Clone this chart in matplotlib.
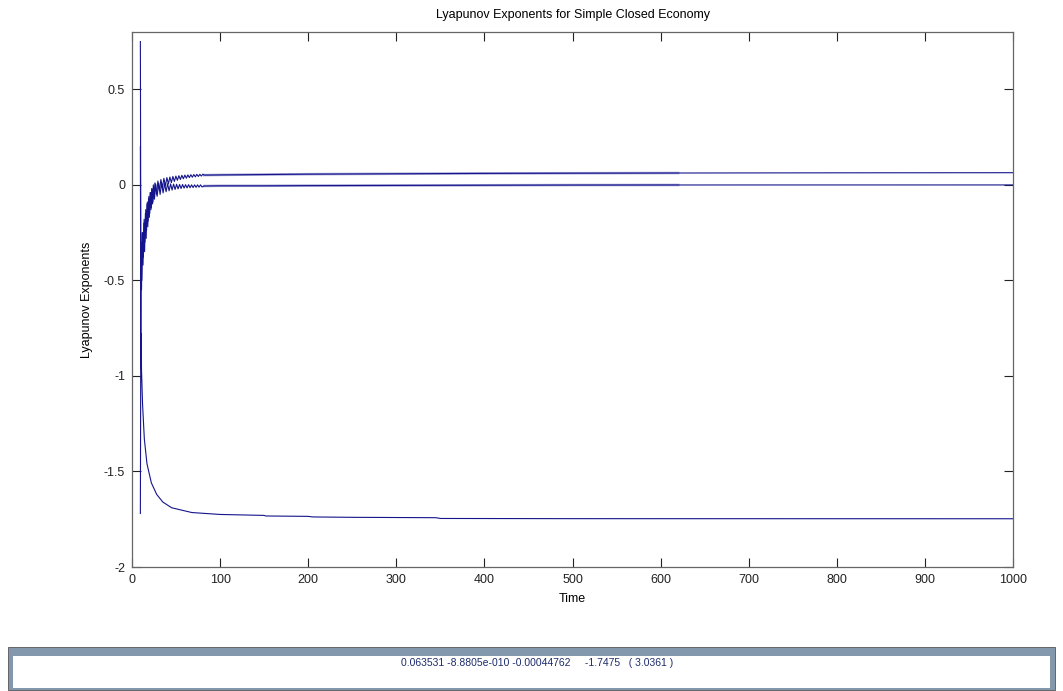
import matplotlib
matplotlib.use("Agg")
import matplotlib.pyplot as plt
from matplotlib.patches import Rectangle

plt.rcParams['font.family'] = ['Liberation Sans', 'DejaVu Sans']

# --- values ---
# largest exponent: wild start, zigzag, then slow approach to 0.0636
t1_early = [9.5, 10.0, 10.8, 11.6, 12.5, 13.4, 14.3, 15.2, 16.1, 17.0, 17.9, 18.8,
            19.7, 20.6, 21.5, 22.4, 23.3, 24.2, 25.1, 26.0, 27.7, 29.4, 31.1, 32.8,
            34.5, 36.2, 37.9, 39.6, 41.3, 43.0, 44.7, 46.4, 48.1, 49.8, 51.5, 53.2,
            54.9, 56.6, 58.3, 60.0, 61.7, 63.4, 65.1, 66.8, 68.5, 70.2, 71.9, 73.6,
            75.3, 77.0, 78.7, 80.4]
l1_early = [0.75, -0.30, -0.55, -0.25, -0.42, -0.20, -0.35, -0.15, -0.28, -0.10, -0.22, -0.07,
            -0.17, -0.04, -0.13, -0.02, -0.10, 0.00, -0.07, 0.01, -0.05, 0.02, -0.03, 0.028,
            -0.015, 0.034, -0.005, 0.038, 0.005, 0.041, 0.012, 0.044, 0.018, 0.046, 0.024, 0.048,
            0.028, 0.050, 0.032, 0.051, 0.035, 0.052, 0.038, 0.053, 0.040, 0.054, 0.042, 0.055,
            0.044, 0.055, 0.046, 0.056]
t1_late = [82, 100, 150, 200, 300, 400, 500, 620, 800, 1000]
l1_late = [0.051, 0.052, 0.054, 0.056, 0.058, 0.060, 0.061, 0.062, 0.063, 0.0636]

# middle exponent, converges to ~0
t2_early = [9.5, 10.0, 10.4, 11.2, 12.0, 12.9, 13.8, 14.7, 15.6, 16.5, 17.4, 18.3,
            19.2, 20.1, 21.0, 21.9, 22.8, 23.7, 24.6, 25.5, 26.8, 28.5, 30.2, 31.9,
            33.6, 35.3, 37.0, 38.7, 40.4, 42.1, 43.8, 45.5, 47.2, 48.9, 50.6, 52.3,
            54.0, 55.7, 57.4, 59.1, 60.8, 62.5, 64.2, 65.9, 67.6, 69.3, 71.0, 72.7,
            74.4, 76.1, 77.8, 79.5]
l2_early = [0.20, -0.75, -0.30, -0.50, -0.25, -0.38, -0.18, -0.30, -0.13, -0.24, -0.09, -0.19,
            -0.06, -0.15, -0.04, -0.12, -0.02, -0.09, -0.01, -0.075, 0.005, -0.06, 0.008, -0.05,
            0.008, -0.042, 0.007, -0.036, 0.006, -0.031, 0.005, -0.027, 0.004, -0.024, 0.003, -0.021,
            0.002, -0.019, 0.002, -0.017, 0.001, -0.016, 0.001, -0.015, 0.000, -0.014, 0.000, -0.013,
            0.000, -0.012, 0.000, -0.011]
t2_late = [82, 100, 150, 200, 300, 400, 500, 620, 800, 1000]
l2_late = [-0.006, -0.005, -0.005, -0.004, -0.003, -0.002, -0.001, -0.0006, -0.0005, -0.00045]

# smallest exponent, decays to -1.7475
t3 = [9.5, 10.0, 10.2, 10.5, 10.8, 11.0, 12.0, 14.0, 17.0, 22.0, 28.0, 35.0, 45.0,
      68.0, 100.0, 150.0, 152.0, 200.0, 205.0, 250.0, 345.0, 350.0, 500.0, 1000.0]
l3 = [-1.72, -0.75, -0.96, -0.78, -0.97, -1.00, -1.15, -1.33, -1.46, -1.56, -1.62, -1.66, -1.69,
      -1.715, -1.725, -1.730, -1.733, -1.735, -1.738, -1.740, -1.742, -1.746, -1.747, -1.7475]

x_ticks = [0, 100, 200, 300, 400, 500, 600, 700, 800, 900, 1000]
y_ticks = [-2, -1.5, -1, -0.5, 0, 0.5]
y_tick_labels = ['-2', '-1.5', '-1', '-0.5', '0', '0.5']
summary = '0.063531 -8.8805e-010 -0.00044762     -1.7475   ( 3.0361 )'

col = '#14148c'

fig = plt.figure(figsize=(10.63, 6.91), dpi=100)
ax = fig.add_axes([132/1063, 1 - 567/691, (1013-132)/1063, (567-32)/691])

# the fine zigzag that lasts till about t=620 shows as a soft band
ax.plot(t1_late[:-2], l1_late[:-2], color='#3030a0', lw=1.8, alpha=0.45)
ax.plot(t2_late[:-2], l2_late[:-2], color='#3030a0', lw=1.8, alpha=0.45)

ax.plot(t1_early + t1_late, l1_early + l1_late, color=col, lw=0.8)
ax.plot(t2_early + t2_late, l2_early + l2_late, color=col, lw=0.8)
ax.plot(t3, l3, color=col, lw=0.8)

ax.set_xlim(0, 1000)
ax.set_ylim(-2, 0.8)
ax.set_xticks(x_ticks)
ax.set_yticks(y_ticks)
ax.set_yticklabels(y_tick_labels)
ax.tick_params(direction='in', length=6.5, width=0.8, top=True, right=True,
               labelsize=9, pad=5, colors='#222222')
for s in ax.spines.values():
    s.set_color('#666666')
    s.set_linewidth(0.9)

ax.set_title('Lyapunov Exponents for Simple Closed Economy', fontsize=9, pad=10)
ax.set_xlabel('Time', fontsize=9, labelpad=5)
ax.set_ylabel('Lyapunov Exponents', fontsize=9, labelpad=8)

# status box under the chart
fig.patches.append(Rectangle((8/1063, 1 - 690/691), 1047/1063, 43/691,
                             transform=fig.transFigure, facecolor='#8498ad',
                             edgecolor='#555555', lw=0.6))
fig.patches.append(Rectangle((13/1063, 1 - 688/691), 1037/1063, 32/691,
                             transform=fig.transFigure, facecolor='white',
                             edgecolor='none'))
fig.text(537/1063, 1 - 663/691, summary, ha='center', va='center',
         fontsize=7.5, color='#1c2c6c')

fig.savefig('out.png', dpi=100)
